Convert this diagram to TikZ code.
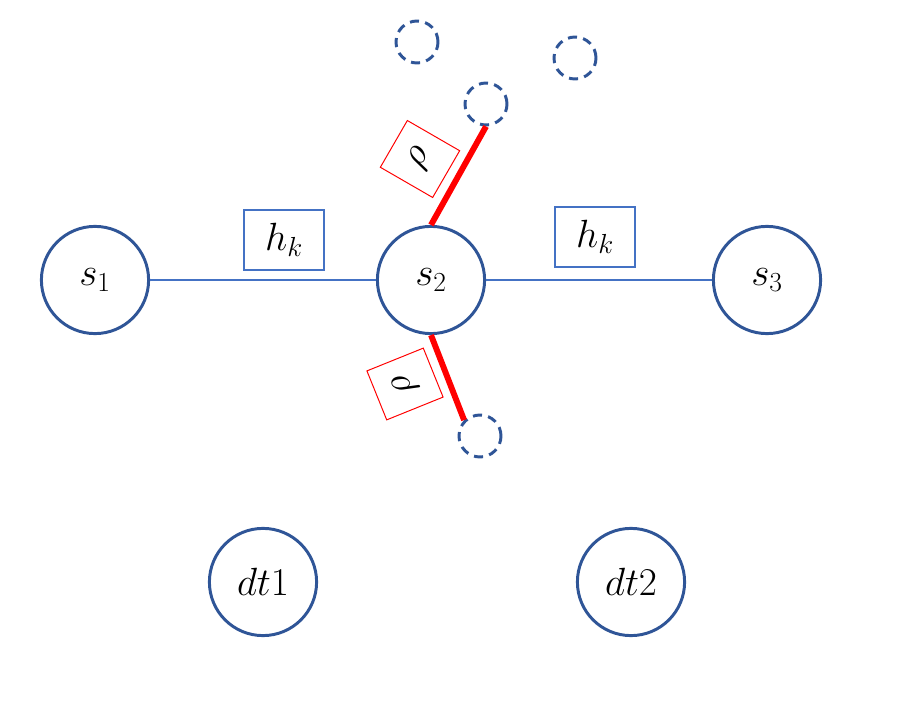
\documentclass[tikz,border=0pt]{standalone}
\usepackage{fix-cm}
\usepackage{amsmath,amssymb}
\usepackage{tikz}
\usetikzlibrary{calc}

\definecolor{circblue}{HTML}{2F5597}
\definecolor{lineblue}{HTML}{4472C4}

\begin{document}
\begin{tikzpicture}[x=0.25mm, y=-0.25mm,
	site/.style={circle, draw=circblue, line width=2.1pt, minimum size=26.8mm, inner sep=0pt, font=\fontsize{28}{32}\selectfont},
	ghost/.style={circle, draw=circblue, line width=2.1pt, dash pattern=on 6.5pt off 4.5pt, minimum size=10.5mm, inner sep=0pt},
	hbox/.style={rectangle, draw=lineblue, line width=1.3pt, minimum width=20mm, minimum height=15mm, inner sep=0pt, font=\fontsize{28}{32}\selectfont},
	rhobox/.style={rectangle, draw=red, line width=0.7pt, inner sep=0pt, font=\fontsize{28}{32}\selectfont}]

	\useasboundingbox (0,0) rectangle (901,721);

	% sites
	\node[site] (s1) at (95,280) {$s_1$};
	\node[site] (s2) at (431,280) {$s_2$};
	\node[site] (s3) at (767,280) {$s_3$};
	\node[site] (dt1) at (263,582) {$dt1$};
	\node[site] (dt2) at (631,582) {$dt2$};

	% dashed circles
	\node[ghost] (g1) at (417,42) {};
	\node[ghost] (g2) at (575,58) {};
	\node[ghost] (g3) at (486,104) {};
	\node[ghost] (g4) at (480,436) {};

	\draw[lineblue, line width=1.4pt] (s1.east) -- (s2.west);
	\draw[lineblue, line width=1.4pt] (s2.east) -- (s3.west);

	\node[hbox] (hk1) at (284,240) {$h_k$};
	\node[hbox] (hk2) at (595,237) {$h_k$};

	\draw[red, line width=4.2pt] (s2.north) -- (g3.south);
	\draw[red, line width=4.2pt] (s2.south) -- (g4.north west);

	\node[rhobox, rotate=60, minimum width=13.5mm, minimum height=15.1mm] (rho1) at (420,159) {$\rho$};
	\node[rhobox, rotate=112, minimum width=13.2mm, minimum height=15.2mm] (rho2) at (405,384) {$\rho$};
\end{tikzpicture}
\end{document}
